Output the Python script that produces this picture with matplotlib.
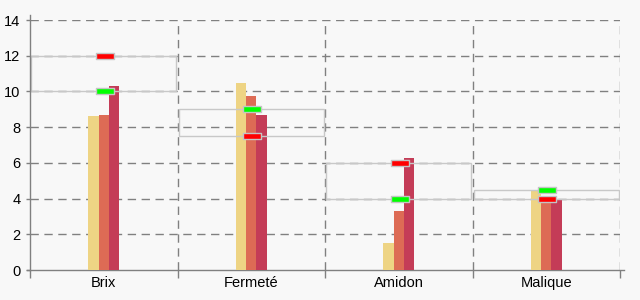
import matplotlib
matplotlib.use("Agg")
import matplotlib.pyplot as plt
import numpy as np
from matplotlib.path import Path
from matplotlib.patches import Rectangle

categories = ["Brix", "Fermeté", "Amidon", "Malique"]
series_a = [8.6, 10.5, 1.5, 4.4]
series_b = [8.7, 9.75, 3.3, 3.95]
series_c = [10.3, 8.7, 6.3, 3.9]
range_low = [10, 7.5, 4, 4]
range_high = [12, 9, 6, 4.5]
red_marks = [12, 7.5, 6, 4]
green_marks = [10, 9, 4, 4.5]
yticks = [0, 2, 4, 6, 8, 10, 12, 14]

bg = "#f8f8f8"
grid_c = "#808080"
plt.rcParams['font.family'] = ['Liberation Sans', 'DejaVu Sans']

fig = plt.figure(figsize=(6.4, 3.0), dpi=100, facecolor=bg)
ax = fig.add_axes([30/640, 30/300, 590/640, 250/300])
ax.set_facecolor(bg)

x = np.arange(len(categories))
w = 0.07
colors = ["#EED484", "#DD6B55", "#C43C57"]
for i, (vals, c) in enumerate(zip([series_a, series_b, series_c], colors)):
    ax.bar(x + (i - 1) * w, vals, width=w, color=c, zorder=3, linewidth=0)

# range boxes
for xi, lo, hi in zip(x, range_low, range_high):
    ax.add_patch(Rectangle((xi - 0.493, lo), 0.986, hi - lo, fill=False,
                           edgecolor="#c8c8c8", linewidth=1.0, zorder=4))

# marker shape: wide flat rectangle
verts = [(-1.6, -0.55), (1.6, -0.55), (1.6, 0.55), (-1.6, 0.55), (-1.6, -0.55)]
codes = [Path.MOVETO, Path.LINETO, Path.LINETO, Path.LINETO, Path.CLOSEPOLY]
mk = Path(verts, codes)
ax.plot(x + 0.008, red_marks, linestyle="none", marker=mk, markersize=12.5,
        markerfacecolor="#ff0000", markeredgecolor="#c4c4c4", markeredgewidth=1.0, zorder=5)
ax.plot(x + 0.008, green_marks, linestyle="none", marker=mk, markersize=12.5,
        markerfacecolor="#00ff00", markeredgecolor="#c4c4c4", markeredgewidth=1.0, zorder=5)

ax.set_xlim(-0.5, 3.5)
ax.set_ylim(0, 14)
ax.set_yticks(yticks)
ax.set_yticklabels([str(t) for t in yticks])

# dashed grid
for t in yticks[1:]:
    ax.axhline(t, color=grid_c, linestyle=(0, (6, 4)), linewidth=1.0, zorder=1)
for b in [0.5, 1.5, 2.5, 3.5]:
    ax.axvline(b, color=grid_c, linestyle=(0, (6, 4)), linewidth=1.0, zorder=1)

ax.set_xticks([-0.5, 0.5, 1.5, 2.5, 3.5])
ax.set_xticklabels([])
ax.set_xticks(x, minor=True)
ax.set_xticklabels(categories, minor=True)
ax.tick_params(axis="x", which="major", direction="out", length=6, color=grid_c, width=1)
ax.tick_params(axis="x", which="minor", length=0, pad=4, labelsize=10.5, labelcolor="#000000")
ax.tick_params(axis="y", direction="out", length=3, color=grid_c, width=1, pad=4,
               labelsize=10.5, labelcolor="#000000")

for s in ["top", "right"]:
    ax.spines[s].set_visible(False)
for s in ["left", "bottom"]:
    ax.spines[s].set_color(grid_c)
    ax.spines[s].set_linewidth(1.0)
ax.spines["bottom"].set_bounds(-0.52, 3.53)
ax.spines["left"].set_bounds(0, 14.3)
ax.spines["left"].set_zorder(6)

fig.savefig("out.png", dpi=100, facecolor=bg)
